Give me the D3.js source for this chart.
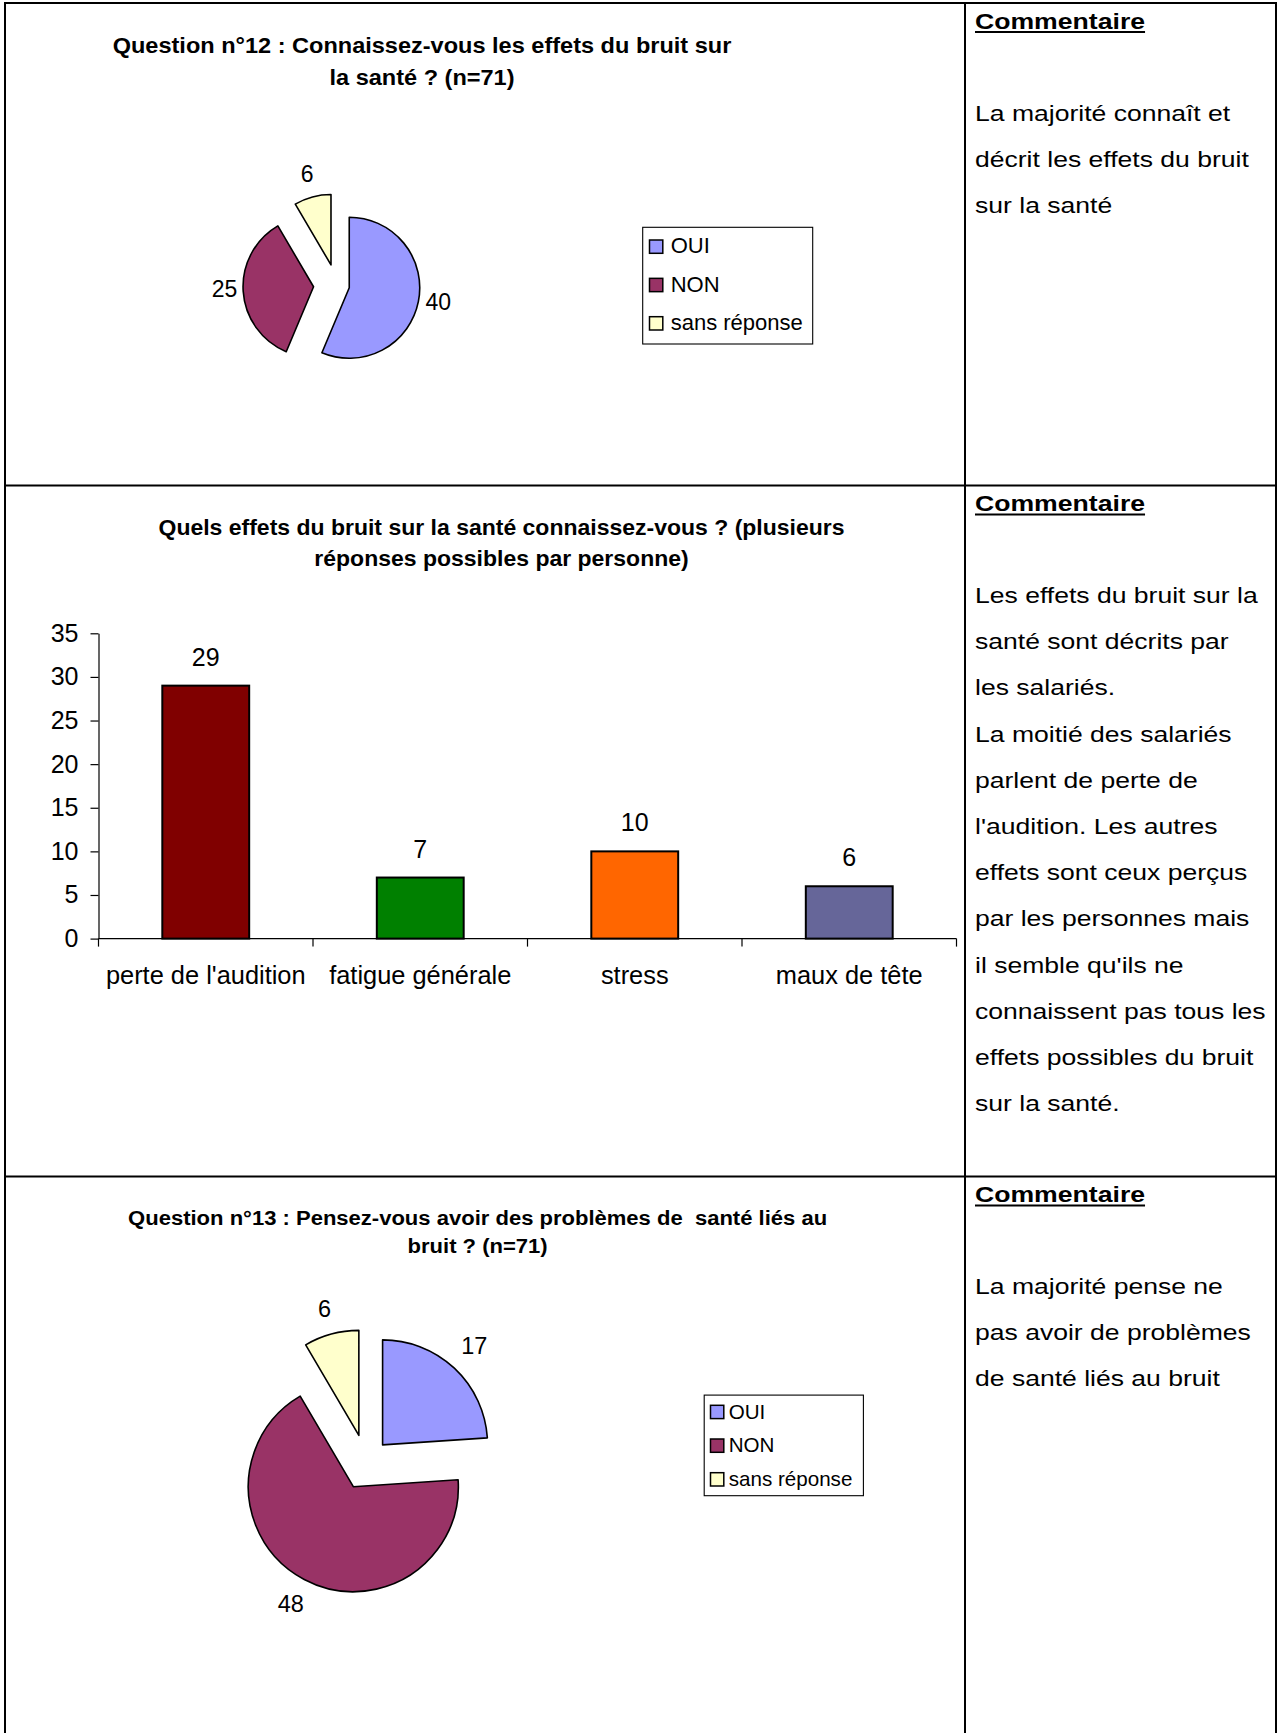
<!DOCTYPE html>
<html><head><meta charset="utf-8">
<script src="https://cdn.jsdelivr.net/npm/d3@7"></script>
<style>
body{margin:0;background:#fff}
svg{display:block}
text{font-family:"Liberation Sans",Arial,Helvetica,sans-serif;white-space:pre;fill:#000}
</style>
</head><body>
<svg id="c" width="1279" height="1733"></svg>
<script>
// ---------- data ----------
const pieCategories = ["OUI", "NON", "sans réponse"];
const q12Values = [40, 25, 6];
const q13Values = [17, 48, 6];
const effectCategories = ["perte de l'audition", "fatigue générale", "stress", "maux de tête"];
const effectValues = [29, 7, 10, 6];
const yTicks = [0, 5, 10, 15, 20, 25, 30, 35];
const titleQ12 = ["Question n°12 : Connaissez-vous les effets du bruit sur", "la santé ? (n=71)"];
const titleEffects = ["Quels effets du bruit sur la santé connaissez-vous ? (plusieurs", "réponses possibles par personne)"];
const titleQ13 = ["Question n°13 : Pensez-vous avoir des problèmes de  santé liés au", "bruit ? (n=71)"];
const commentHeading = "Commentaire";
const comment1 = ["La majorité connaît et", "décrit les effets du bruit", "sur la santé"];
const comment2 = ["Les effets du bruit sur la", "santé sont décrits par", "les salariés.", "La moitié des salariés",
  "parlent de perte de", "l'audition. Les autres", "effets sont ceux perçus", "par les personnes mais",
  "il semble qu'ils ne", "connaissent pas tous les", "effets possibles du bruit", "sur la santé."];
const comment3 = ["La majorité pense ne", "pas avoir de problèmes", "de santé liés au bruit"];

// ---------- styles ----------
const pieColors = ["#9999FF", "#993366", "#FFFFCC"];
const barColors = ["#800000", "#008000", "#FF6600", "#666699"];

const svg = d3.select("#c");
svg.append("rect").attr("width", 1279).attr("height", 1733).attr("fill", "#fff");

function stext(str, x, y, size, opts = {}) {
  const t = svg.append("text")
    .attr("transform", `translate(${x},${y}) scale(${opts.sx || 1},1)`)
    .attr("font-size", size)
    .attr("font-weight", opts.weight || "normal")
    .attr("text-anchor", opts.anchor || "start")
    .text(str);
  return t;
}

// ---------- table ----------
const T = {left: 5, right: 1276, div: 965, rows: [3, 485.5, 1176.5], bottom: 1733};
const grid = svg.append("g").attr("stroke", "#000").attr("stroke-width", 2);
[T.left, T.div, T.right].forEach(x => grid.append("line").attr("x1", x).attr("x2", x).attr("y1", T.rows[0] - 1).attr("y2", T.bottom));
T.rows.forEach(y => grid.append("line").attr("x1", T.left - 1).attr("x2", T.right + 1).attr("y1", y).attr("y2", y));

// ---------- comments ----------
[comment1, comment2, comment3].forEach((lines, i) => {
  const top = T.rows[i];
  const h = stext(commentHeading, 975, top + 25.5, 22, {weight: "bold", sx: 1.21});
  const w = h.node().getComputedTextLength() * 1.21;
  svg.append("line").attr("x1", 975).attr("x2", 975 + w).attr("y1", top + 29).attr("y2", top + 29)
    .attr("stroke", "#000").attr("stroke-width", 2);
  lines.forEach((l, k) => stext(l, 975, top + 117.5 + k * 46.2, 22.5, {sx: 1.18}));
});

// ---------- titles ----------
function title(lines, cx, b1, b2, size, sx) {
  stext(lines[0], cx, b1, size, {weight: "bold", sx, anchor: "middle"});
  stext(lines[1], cx, b2, size, {weight: "bold", sx, anchor: "middle"});
}
title(titleQ12, 422, 52.8, 84.5, 21.5, 1.095);
title(titleEffects, 501.5, 534.6, 565.8, 21.5, 1.07);
title(titleQ13, 477.6, 1224.5, 1252.5, 20.5, 1.075);

// ---------- pies ----------
function drawPie(values, cx, cy, r, explode, labelSize, labelGap, labelDy) {
  const arcs = d3.pie().sort(null).value(d => d)(values);
  const arcGen = d3.arc().innerRadius(0).outerRadius(r);
  const g = svg.append("g");
  arcs.forEach((a, i) => {
    const mid = (a.startAngle + a.endAngle) / 2;
    const dx = Math.sin(mid), dy = -Math.cos(mid);
    const ox = cx + explode[i] * dx, oy = cy + explode[i] * dy;
    g.append("path").attr("d", arcGen(a)).attr("transform", `translate(${ox},${oy})`)
      .attr("fill", pieColors[i]).attr("stroke", "#000").attr("stroke-width", 1.6)
      .attr("stroke-linejoin", "round");
    const t = g.append("text").attr("font-size", labelSize).attr("text-anchor", "middle")
      .attr("dominant-baseline", "central").text(values[i]);
    const w = t.node().getComputedTextLength(), h = labelSize * 1.2;
    const dist = r + labelGap + Math.abs(dx) * w / 2 + Math.abs(dy) * h / 2;
    t.attr("x", ox + dist * dx).attr("y", oy + dist * dy + labelDy);
  });
}
drawPie(q12Values, 336.5, 285.2, 70.5, [13, 23, 21], 23, 5, -4);
drawPie(q13Values, 366.2, 1462.4, 105, [24, 27.5, 28], 23.5, 10, -1);

// ---------- legends ----------
function drawLegend(x0, y0, w, h, firstBase, step, sw, swX, txtX, size) {
  const g = svg.append("g");
  g.append("rect").attr("x", x0).attr("y", y0).attr("width", w).attr("height", h)
    .attr("fill", "#fff").attr("stroke", "#000").attr("stroke-width", 1.1);
  pieCategories.forEach((c, i) => {
    const b = y0 + firstBase + i * step;
    g.append("rect").attr("x", swX).attr("y", b - sw).attr("width", sw).attr("height", sw)
      .attr("fill", pieColors[i]).attr("stroke", "#000").attr("stroke-width", 1.5);
    g.append("text").attr("x", txtX).attr("y", b).attr("font-size", size).text(c);
  });
}
drawLegend(642.7, 227.3, 170, 116.7, 26, 38.35, 13.3, 649.5, 670.7, 22);
drawLegend(704.2, 1395.1, 159.2, 100.6, 23.5, 33.7, 13.3, 710.5, 728.7, 20.6);

// ---------- bar chart ----------
const x = d3.scaleBand().domain(effectCategories).range([98.5, 956.5]).paddingInner(0).paddingOuter(0);
const y = d3.scaleLinear().domain([0, 35]).range([938.6, 633.3]);
const barW = x.bandwidth() * 0.405;
const bg = svg.append("g");
effectValues.forEach((v, i) => {
  const c = effectCategories[i];
  const bx = x(c) + (x.bandwidth() - barW) / 2;
  bg.append("rect").attr("x", bx).attr("y", y(v)).attr("width", barW).attr("height", y(0) - y(v))
    .attr("fill", barColors[i]).attr("stroke", "#000").attr("stroke-width", 2);
  bg.append("text").attr("x", x(c) + x.bandwidth() / 2).attr("y", y(v) - 20)
    .attr("font-size", 25).attr("text-anchor", "middle").text(v);
  bg.append("text").attr("x", x(c) + x.bandwidth() / 2).attr("y", 984)
    .attr("font-size", 25.4).attr("text-anchor", "middle").text(c);
});
const yAxis = svg.append("g").attr("transform", "translate(98.5,0)")
  .call(d3.axisLeft(y).tickValues(yTicks).tickSize(8).tickSizeOuter(0).tickPadding(12));
yAxis.selectAll("text").attr("font-size", 25).attr("font-family", '"Liberation Sans",Arial,sans-serif').attr("fill", "#000");
yAxis.selectAll("line,path").attr("stroke", "#000").attr("stroke-width", 1.2);
// x axis
const xa = svg.append("g").attr("stroke", "#000").attr("stroke-width", 1.2);
xa.append("line").attr("x1", x.range()[0]).attr("x2", x.range()[1]).attr("y1", y(0)).attr("y2", y(0));
[...effectCategories.map(c => x(c)), x.range()[1]].forEach(p =>
  xa.append("line").attr("x1", p).attr("x2", p).attr("y1", y(0)).attr("y2", y(0) + 8));
</script>
</body></html>
